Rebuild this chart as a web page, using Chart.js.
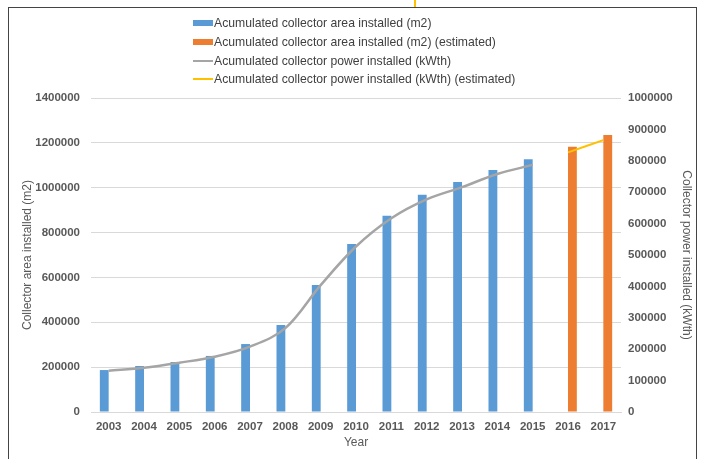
<!DOCTYPE html>
<html>
<head>
<meta charset="utf-8">
<script src="https://cdn.jsdelivr.net/npm/chart.js@4"></script>
<style>
    body { margin: 0; background: #fff; }
    #wrap { position: relative; width: 702px; height: 459px; overflow: hidden; }
    #frame { position: absolute; left: 8px; top: 7px; width: 689px; height: 470px;
             border: 1.5px solid #444; box-sizing: border-box; }
    #stray { position: absolute; left: 414px; top: 0; width: 2px; height: 7px; background: #FFC000; }
    #grafico { position: absolute; left: 0; top: 0; }
    #legenda { position: absolute; left: 193px; top: 14px; font-family: "Liberation Sans", Arial, sans-serif;
               font-size: 12.2px; color: #404040; }
    #legenda .item { height: 18.7px; display: flex; align-items: center; white-space: nowrap; }
    #legenda .marca { width: 20px; margin-right: 1px; }
</style>
</head>
<body>
<div id="wrap">
    <div id="frame"></div>
    <div id="stray"></div>
    <canvas id="grafico" width="702" height="459"></canvas>
    <div id="legenda"></div>
</div>
<script>
const anos = ["2003", "2004", "2005", "2006", "2007", "2008", "2009", "2010", "2011", "2012", "2013", "2014", "2015", "2016", "2017"];

// area acumulada (m2)
const areaInstalada = [187000, 205000, 223000, 250000, 303000, 388000, 566000, 749000, 875000, 969000, 1025000, 1079000, 1127000, null, null];
const areaEstimada = [null, null, null, null, null, null, null, null, null, null, null, null, null, 1183000, 1235000];

// potencia acumulada (kWth)
const potenciaInstalada = [131000, 141000, 157000, 176000, 208000, 267000, 404000, 527000, 617000, 677000, 716000, 758000, 787000, null, null];
const potenciaEstimada = [null, null, null, null, null, null, null, null, null, null, null, null, null, 827000, 866000];

const ticksArea = { min: 0, max: 1400000, step: 200000 };
const ticksPotencia = { min: 0, max: 1000000, step: 100000 };

const fonteTick = { family: "Liberation Sans", size: 11.5, weight: "bold" };
const fonteTitulo = { family: "Liberation Sans", size: 12 };
const corTexto = "#595959";

const ctx = document.getElementById("grafico").getContext("2d");
const chartInstance = new Chart(ctx, {
    type: "bar",
    data: {
        labels: anos,
        datasets: [
            {
                label: "Acumulated collector area installed (m2)",
                data: areaInstalada,
                backgroundColor: "#5B9BD5",
                yAxisID: "y",
                order: 1,
            },
            {
                label: "Acumulated collector area installed (m2) (estimated)",
                data: areaEstimada,
                backgroundColor: "#ED7D31",
                yAxisID: "y",
                order: 1,
            },
            {
                type: "line",
                label: "Acumulated collector power installed (kWth)",
                data: potenciaInstalada,
                borderColor: "#A5A5A5",
                backgroundColor: "#A5A5A5",
                borderWidth: 2.5,
                pointRadius: 0,
                tension: 0.35,
                yAxisID: "y1",
                order: 0,
            },
            {
                type: "line",
                label: "Acumulated collector power installed (kWth) (estimated)",
                data: potenciaEstimada,
                borderColor: "#FFC000",
                backgroundColor: "#FFC000",
                borderWidth: 2,
                pointRadius: 0,
                tension: 0.35,
                yAxisID: "y1",
                order: 0,
            },
        ],
    },
    options: {
        responsive: false,
        animation: false,
        layout: { padding: { top: 98, left: 0, right: 0, bottom: 0 } },
        datasets: { bar: { categoryPercentage: 0.5, barPercentage: 1.0 } },
        plugins: { legend: { display: false }, tooltip: { enabled: false } },
        scales: {
            x: {
                grid: { display: false, drawTicks: false },
                border: { color: "#D9D9D9" },
                ticks: { color: corTexto, font: fonteTick, padding: 8, maxRotation: 0 },
                title: { display: true, text: "Year", color: corTexto, font: fonteTitulo, padding: { top: 0, bottom: 9 } },
                afterFit: (scale) => { scale.height = 47; },
            },
            y: {
                position: "left",
                min: ticksArea.min,
                max: ticksArea.max,
                grid: { color: "#D9D9D9", drawTicks: false },
                border: { display: false },
                ticks: { stepSize: ticksArea.step, color: corTexto, font: fonteTick, padding: 11, callback: v => v },
                title: { display: true, text: "Collector area installed (m2)", color: corTexto, font: fonteTitulo, padding: { top: 20, bottom: 0 } },
                afterFit: (scale) => { scale.width = 91; },
            },
            y1: {
                position: "right",
                min: ticksPotencia.min,
                max: ticksPotencia.max,
                grid: { display: false, drawTicks: false },
                border: { display: false },
                ticks: { stepSize: ticksPotencia.step, color: corTexto, font: fonteTick, padding: 7, callback: v => v },
                title: { display: true, text: "Collector power installed (kWth)", color: corTexto, font: fonteTitulo, padding: { top: 8, bottom: 0 } },
                afterFit: (scale) => { scale.width = 81; },
            },
        },
    },
});

// legenda em html, uma linha por serie
function montarLegenda(chart) {
    const box = document.getElementById("legenda");
    chart.data.datasets.forEach(ds => {
        const item = document.createElement("div");
        item.className = "item";
        const marca = document.createElement("span");
        marca.className = "marca";
        marca.style.height = ds.type === "line" ? "2px" : "6px";
        marca.style.background = ds.type === "line" ? ds.borderColor : ds.backgroundColor;
        const txt = document.createElement("span");
        txt.textContent = ds.label;
        item.appendChild(marca);
        item.appendChild(txt);
        box.appendChild(item);
    });
}
montarLegenda(chartInstance);
</script>
</body>
</html>
